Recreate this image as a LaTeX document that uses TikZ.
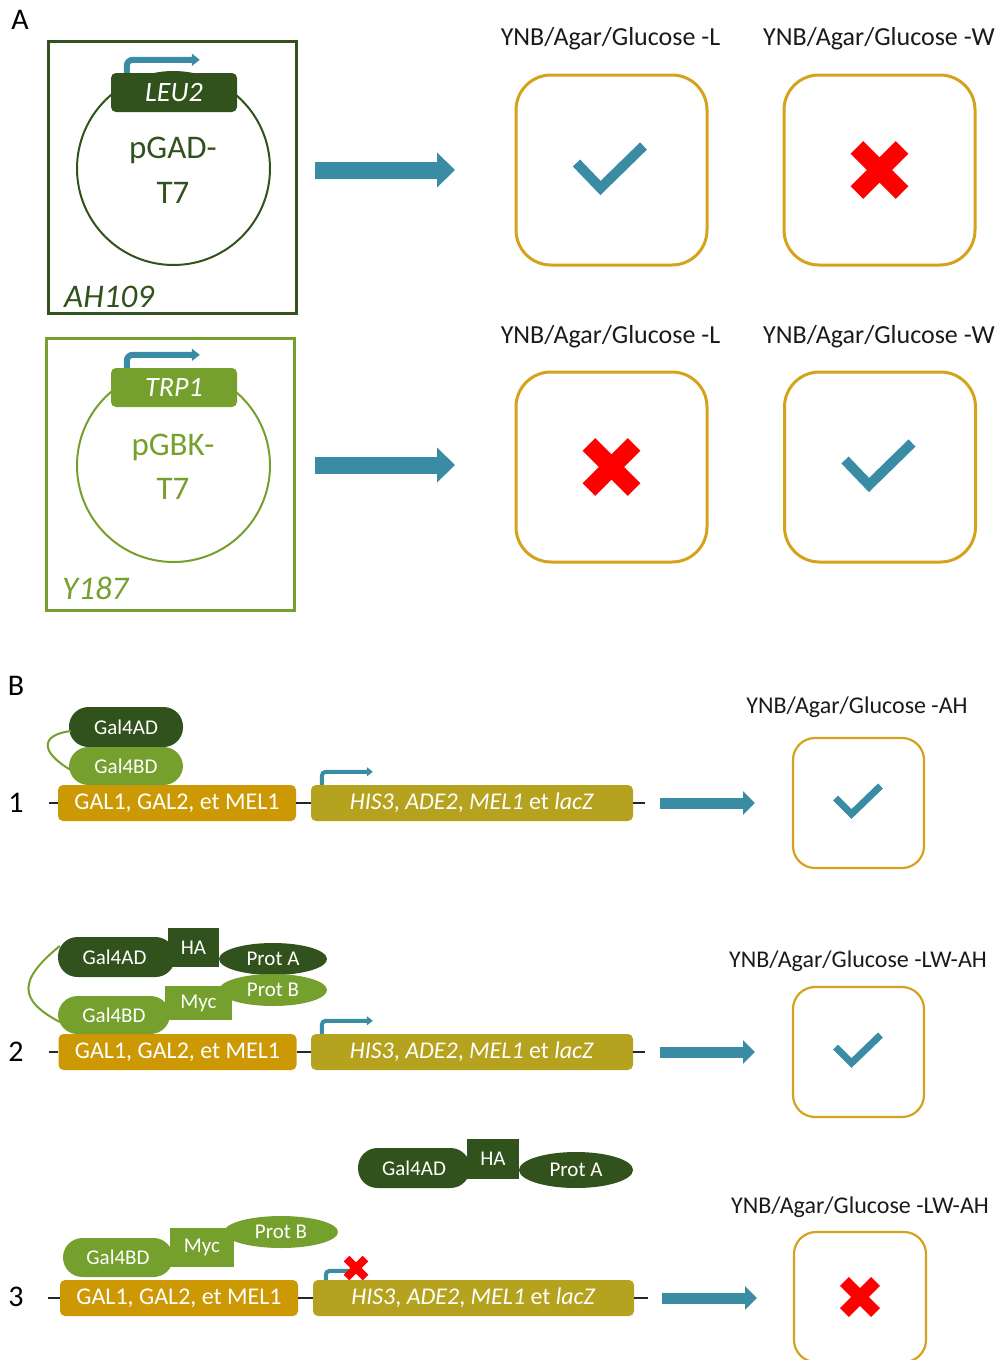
\documentclass[tikz,border=0pt]{standalone}
\usepackage{fontspec}
\setmainfont{Carlito}
\usetikzlibrary{arrows.meta,shapes.geometric}
\definecolor{dg}{RGB}{49,82,28}
\definecolor{lg}{RGB}{118,160,46}
\definecolor{galc}{RGB}{204,153,4}
\definecolor{hisc}{RGB}{181,162,30}
\definecolor{platec}{RGB}{213,162,28}
\definecolor{bluec}{RGB}{58,140,164}
\definecolor{redc}{RGB}{255,0,0}
\definecolor{txt}{RGB}{26,26,26}
\newcommand\fsz[1]{\fontsize{#1}{#1}\selectfont}
\tikzset{
  strain/.style={draw=#1, line width=3, minimum width=248, minimum height=272, inner sep=0},
  plasmid/.style={draw=#1, line width=2, circle, minimum size=193, inner sep=0},
  gene/.style={fill=#1, rounded corners=5, minimum width=126, minimum height=39, inner sep=0, text=white, font=\fsz{28}\itshape},
  ptxt/.style={text=#1, font=\fsz{33}, inner sep=0},
  stxt/.style={text=#1, font=\fsz{33}\itshape, inner sep=0, anchor=west},
  plateA/.style={draw=platec, line width=3, rounded corners=35, minimum width=191, minimum height=190, inner sep=0},
  plateB/.style={draw=platec, line width=2.2, rounded corners=22, minimum width=131, minimum height=130, inner sep=0},
  lblA/.style={text=txt, font=\fsz{26}, inner sep=0},
  lblB/.style={text=txt, font=\fsz{24}, inner sep=0},
  letter/.style={text=black, font=\fsz{30}, inner sep=0},
  bigarrow/.style={draw=bluec, line width=17, -{Triangle[length=18pt,width=34pt]}},
  midarrow/.style={draw=bluec, line width=11, -{Triangle[length=12pt,width=23pt]}},
  promoA/.style={draw=bluec, line width=6, rounded corners=6, -{Triangle[length=8pt,width=12pt]}},
  promoB/.style={draw=bluec, line width=4, rounded corners=4, -{Triangle[length=6pt,width=9pt]}},
  galbox/.style={fill=galc, rounded corners=5, minimum width=238, minimum height=36, inner sep=0, text=white, font=\fsz{24}},
  hisbox/.style={fill=hisc, rounded corners=5, minimum width=322, minimum height=36, inner sep=0, text=white, font=\fsz{24}},
  pill/.style={fill=#1, rounded corners=19.5, inner sep=0, text=white, font=\fsz{21}},
  tag/.style={fill=#1, inner sep=0, text=white, font=\fsz{21}},
  prot/.style={fill=#1, ellipse, inner sep=0, text=white, font=\fsz{21}},
  dna/.style={draw=black!85, line width=1.5},
  checkA/.style={draw=bluec, line width=10, miter limit=10},
  checkB/.style={draw=bluec, line width=7, miter limit=10},
  linker/.style={draw=lg, line width=2},
}
\newcommand\histext{\textit{HIS3}, \textit{ADE2}, \textit{MEL1} et \textit{lacZ}}
\begin{document}
\begin{tikzpicture}[x=1pt,y=-1pt]
\useasboundingbox (0,0) rectangle (1000,1360);
\clip (0,0) rectangle (1000,1360);

% ---------------- Panel A ----------------
\node[letter] (lA) at (20,20) {A};

% strain AH109
\node[strain=dg] (s1) at (172,177) {};
\node[plasmid=dg] (c1) at (173.5,168.5) {};
\node[gene=dg] (leu) at (174,92.5) {LEU2};
\draw[promoA] ([xshift=16]leu.north west) |- ++(73,-13);
\node[ptxt=dg] (pgad1) at (173,150) {pGAD-};
\node[ptxt=dg] (pgad2) at (173,193) {T7};
\node[stxt=dg] (ah) at (64,297) {AH109};

% strain Y187
\node[strain=lg] (s2) at (170.5,474) {};
\node[plasmid=lg] (c2) at (173.5,465.5) {};
\node[gene=lg] (trp) at (174,387.5) {TRP1};
\draw[promoA] ([xshift=16]trp.north west) |- ++(73,-13);
\node[ptxt=lg] (pgbk1) at (173,447) {pGBK-};
\node[ptxt=lg] (pgbk2) at (173,489) {T7};
\node[stxt=lg] (y187) at (62,588) {Y187};

% arrows
\coordinate (a1s) at (315,170);
\coordinate (a1e) at (455,170);
\coordinate (a2s) at (315,465);
\coordinate (a2e) at (455,465);
\draw[bigarrow] (a1s) -- (a1e);
\draw[bigarrow] (a2s) -- (a2e);

% plates
\node[lblA] (l11) at (610.5,39) {YNB/Agar/Glucose -L};
\node[lblA] (l12) at (879,39) {YNB/Agar/Glucose -W};
\node[lblA] (l21) at (610.5,337) {YNB/Agar/Glucose -L};
\node[lblA] (l22) at (879,337) {YNB/Agar/Glucose -W};
\node[plateA] (p11) at (611.5,170) {};
\node[plateA] (p12) at (879.5,170) {};
\node[plateA] (p21) at (611.5,467) {};
\node[plateA] (p22) at (880,467) {};
\draw[checkA, shift={(p11.center)}] (-35,-7) -- (-11,18) -- (32,-24);
\draw[checkA, shift={(p22.center)}] (-35,-7) -- (-11,18) -- (32,-24);
\draw[draw=redc, line width=18, shift={(p12.center)}] (-22.6,-22.6) -- (22.6,22.6) (-22.6,22.6) -- (22.6,-22.6);
\draw[draw=redc, line width=18, shift={(p21.center)}] (-22.6,-22.6) -- (22.6,22.6) (-22.6,22.6) -- (22.6,-22.6);

% ---------------- Panel B ----------------
\node[letter] (lB) at (16,686) {B};

% row 1
\node[letter] (n1) at (16,803) {1};
\coordinate (d1s) at (49,803);
\coordinate (d1e) at (645,803);
\node[galbox] (gal1) at (177,803) {GAL1, GAL2, et MEL1};
\node[hisbox] (his1) at (472,803) {\histext};
\draw[dna] (d1s) -- (gal1.west) (gal1.east) -- (his1.west) (his1.east) -- (d1e);
\draw[promoB] ([xshift=11]his1.north west) |- ++(51,-13);
\node[pill=dg, minimum width=114, minimum height=40] (ad1) at (126,727) {Gal4AD};
\node[pill=lg, minimum width=114, minimum height=38] (bd1) at (126,766) {Gal4BD};
\draw[linker] ([xshift=2,yshift=-4]ad1.west) .. controls (40,735) and (40,752) .. ([xshift=2,yshift=-4]bd1.west);
\coordinate (b1s) at (660,803);
\coordinate (b1e) at (755,803);
\draw[midarrow] (b1s) -- (b1e);
\node[lblB] (lb1) at (857,707) {YNB/Agar/Glucose -AH};
\node[plateB] (q1) at (858.5,803) {};
\draw[checkB, shift={(q1.center)}] (-23,-5) -- (-7,11) -- (22,-17);

% row 2
\node[letter] (n2) at (16,1052) {2};
\coordinate (d2s) at (49,1052);
\coordinate (d2e) at (645,1052);
\node[galbox] (gal2) at (177.5,1052) {GAL1, GAL2, et MEL1};
\node[hisbox] (his2) at (472,1052) {\histext};
\draw[dna] (d2s) -- (gal2.west) (gal2.east) -- (his2.west) (his2.east) -- (d2e);
\draw[promoB] ([xshift=11]his2.north west) |- ++(51,-13);
\node[pill=dg, minimum width=117, minimum height=40, text width=100, align=center] (ad2) at (116.5,957) {Gal4AD\hspace*{4pt}};
\node[tag=dg, minimum width=51, minimum height=39] (ha2) at (193.5,947.5) {HA};
\node[prot=dg, minimum width=108, minimum height=32] (pa2) at (273,959) {Prot A};
\node[pill=lg, minimum width=112, minimum height=38] (bd2) at (114,1015) {Gal4BD};
\node[tag=lg, minimum width=67, minimum height=34] (myc2) at (198.5,1003) {Myc};
\node[prot=lg, minimum width=108, minimum height=32] (pb2) at (273,990) {Prot B};
\draw[linker] ([xshift=2,yshift=11]ad2.west) .. controls (18,980) and (18,1000) .. ([xshift=2,yshift=-7]bd2.west);
\coordinate (b2s) at (660,1052);
\coordinate (b2e) at (755,1052);
\draw[midarrow] (b2s) -- (b2e);
\node[lblB] (lb2) at (858,961) {YNB/Agar/Glucose -LW-AH};
\node[plateB] (q2) at (858.5,1052) {};
\draw[checkB, shift={(q2.center)}] (-23,-5) -- (-7,11) -- (22,-17);

% row 3
\node[letter] (n3) at (16,1297) {3};
\coordinate (d3s) at (48,1298);
\coordinate (d3e) at (648,1298);
\node[galbox] (gal3) at (179,1298) {GAL1, GAL2, et MEL1};
\node[hisbox, minimum width=321] (his3) at (473.5,1298) {\histext};
\draw[dna] (d3s) -- (gal3.west) (gal3.east) -- (his3.west) (his3.east) -- (d3e);
\draw[draw=bluec, line width=4, rounded corners=4] ([xshift=13]his3.north west) |- ++(26,-9);
\draw[draw=redc, line width=8, shift={(356,1268)}] (-9.5,-9.5) -- (9.5,9.5) (-9.5,9.5) -- (9.5,-9.5);
\node[pill=dg, minimum width=112, minimum height=40] (ad3) at (414,1168) {Gal4AD};
\node[tag=dg, minimum width=52, minimum height=40] (ha3) at (493,1159) {HA};
\node[prot=dg, minimum width=114, minimum height=36] (pa3) at (576,1170) {Prot A};
\node[pill=lg, minimum width=110, minimum height=39] (bd3) at (118,1257.5) {Gal4BD};
\node[tag=lg, minimum width=64, minimum height=39] (myc3) at (202,1247.5) {Myc};
\node[prot=lg, minimum width=114, minimum height=32] (pb3) at (281,1232) {Prot B};
\coordinate (b3s) at (662,1298);
\coordinate (b3e) at (757,1298);
\draw[midarrow] (b3s) -- (b3e);
\node[lblB] (lb3) at (860,1207) {YNB/Agar/Glucose -LW-AH};
\node[plateB, minimum width=132] (q3) at (860,1297) {};
\draw[draw=redc, line width=12.5, shift={(q3.center)}] (-15.6,-15.6) -- (15.6,15.6) (-15.6,15.6) -- (15.6,-15.6);
\end{tikzpicture}
\end{document}
